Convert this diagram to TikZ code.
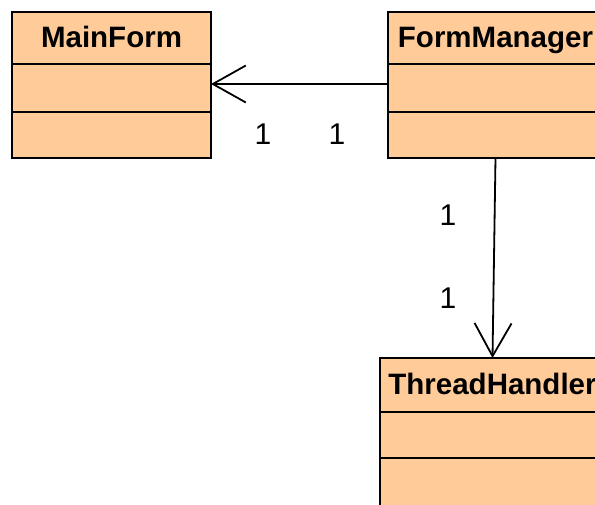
\documentclass[tikz,border=0pt]{standalone}
\usepackage{fontspec}
\setmainfont{Liberation Sans}
\usetikzlibrary{arrows.meta,positioning}
\definecolor{classfill}{RGB}{255,204,153}

\begin{document}
\begin{tikzpicture}[x=1pt,y=1pt,yscale=-1,
    classhead/.style={draw,fill=classfill,line width=2.4pt,inner sep=0pt,outer sep=0pt,
        font=\bfseries\fontsize{29.5}{29.5}\selectfont,text height=21pt,text depth=3pt},
    compart/.style={draw,fill=classfill,line width=2.4pt,inner sep=0pt,outer sep=0pt},
    mult/.style={inner sep=0pt,font=\fontsize{30}{30}\selectfont},
    assoc/.style={line width=1.8pt,-{Straight Barb[length=33pt,width=37pt]}}]
    \useasboundingbox (0,0) rectangle (595,504);

    % MainForm
    \node[classhead,minimum width=199pt,minimum height=52pt] (mainform) at (111.5,38) {MainForm};
    \node[compart,minimum width=199pt,minimum height=48pt,below=0pt of mainform] (mainformattr) {};
    \node[compart,minimum width=199pt,minimum height=46pt,below=0pt of mainformattr] (mainformops) {};

    % FormManager
    \node[classhead,minimum width=215pt,minimum height=52pt] (formmanager) at (495.5,38) {FormManager};
    \node[compart,minimum width=215pt,minimum height=48pt,below=0pt of formmanager] (formmanagerattr) {};
    \node[compart,minimum width=215pt,minimum height=46pt,below=0pt of formmanagerattr] (formmanagerops) {};

    % ThreadHandler
    \node[classhead,minimum width=225pt,minimum height=54pt] (threadhandler) at (492.5,385) {ThreadHandler};
    \node[compart,minimum width=225pt,minimum height=46pt,below=0pt of threadhandler] (threadhandlerattr) {};
    \node[compart,minimum width=225pt,minimum height=48pt,below=0pt of threadhandlerattr] (threadhandlerops) {};

    % associations
    \draw[assoc] ([yshift=-4pt]formmanagerattr.west) -- ([yshift=-4pt]mainformattr.east);
    \draw[assoc] (formmanagerops.south) -- (threadhandler.north);

    % multiplicities
    \node[mult] (mainformmult) at (263,134) {1};
    \node[mult] (formmanagermult) at (337,134) {1};
    \node[mult] (managerendmult) at (448,215) {1};
    \node[mult] (threadendmult) at (448,298) {1};
\end{tikzpicture}
\end{document}
